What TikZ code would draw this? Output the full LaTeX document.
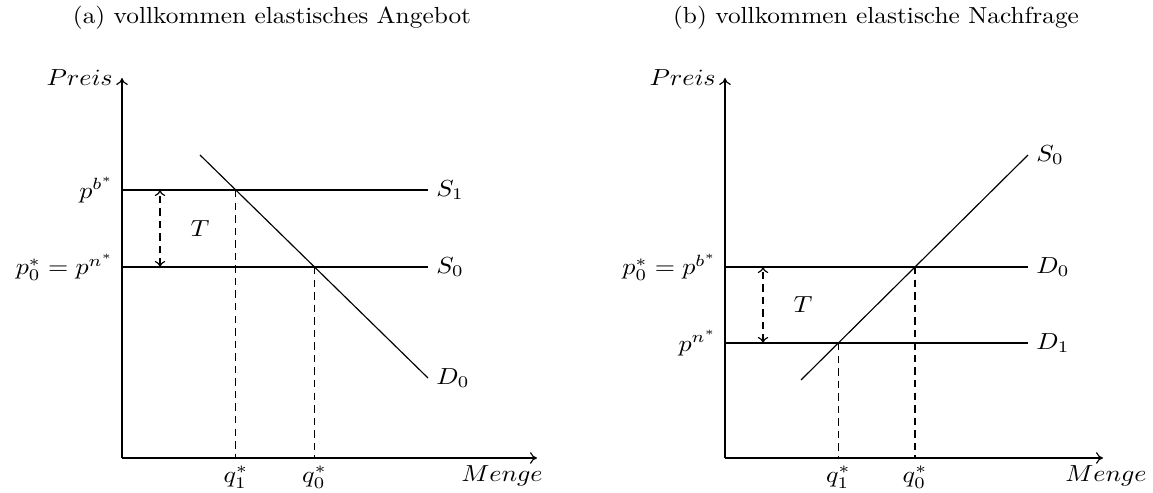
\documentclass[tikz,border=0pt]{standalone}
\usetikzlibrary{arrows.meta}
\newcommand\hstr[1]{\scalebox{1.12}[1]{#1}}
\newcommand\tstr[1]{\scalebox{1.09}[1]{#1}}
\begin{document}
\begin{tikzpicture}[x=0.43pt,y=-0.43pt,line width=0.5pt,
  axis/.style={-{To[length=3pt,width=5pt]}},
  curve/.style={line width=0.5pt},
  guide/.style={dash pattern=on 3.2pt off 2.2pt},
  tarrow/.style={{To[length=2.6pt,width=4.5pt]}-{To[length=2.6pt,width=4.5pt]},dash pattern=on 3.2pt off 2.2pt},
  lbl/.style={inner sep=3.3pt}]
\useasboundingbox (0,0) rectangle (1153,493);

% ---------- titles
\node (ta) at (272,18) {\tstr{(a) vollkommen elastisches Angebot}};
\node (tb) at (876,18) {\tstr{(b) vollkommen elastische Nachfrage}};

% ---------- panel (a)
\coordinate (aO) at (122,458);
\coordinate (aY) at (122,78);
\coordinate (aX) at (537,458);
\draw[axis] (aO) -- (aY);
\draw[axis] (aO) -- (aX);
\node[lbl,anchor=east] (aPreis) at (121,78) {\hstr{$Preis$}};
\node[lbl] (aMenge) at (502,476) {\hstr{$Menge$}};

\coordinate (aS1l) at (122,190);
\coordinate (aS1r) at (428,190);
\coordinate (aS0l) at (122,267);
\coordinate (aS0r) at (428,267);
\coordinate (aDt) at (200,155);
\coordinate (aDb) at (428,378);
\coordinate (aE1) at (235.8,190);
\coordinate (aE0) at (314.5,267);

\draw[curve] (aS1l) -- (aS1r);
\draw[curve] (aS0l) -- (aS0r);
\draw[curve] (aDt) -- (aDb);
\node[lbl,anchor=west] (aS1) at (aS1r) {\hstr{$S_1$}};
\node[lbl,anchor=west] (aS0) at (aS0r) {\hstr{$S_0$}};
\node[lbl,anchor=west] (aD0) at (aDb) {\hstr{$D_0$}};
\node[lbl,anchor=east] (apb) at (aS1l) {\hstr{$p^{b^*}$}};
\node[lbl,anchor=east] (ap0) at (aS0l) {\hstr{$p_0^* = p^{n^*}$}};

\coordinate (aQ1) at (aE1 |- aO);
\coordinate (aQ0) at (aE0 |- aO);
\draw[guide] (aE1) -- (aQ1);
\draw[guide] (aE0) -- (aQ0);
\node[lbl,anchor=north] (aq1) at (aQ1) {\hstr{$q_1^*$}};
\node[lbl,anchor=north] (aq0) at (aQ0) {\hstr{$q_0^*$}};

\coordinate (aTt) at (160,190);
\coordinate (aTb) at (160,267);
\draw[tarrow] (aTb) -- (aTt);
\node (aT) at (200,229) {\hstr{$T$}};

% ---------- panel (b)
\coordinate (bO) at (725,458);
\coordinate (bY) at (725,78);
\coordinate (bX) at (1103,458);
\draw[axis] (bO) -- (bY);
\draw[axis] (bO) -- (bX);
\node[lbl,anchor=east] (bPreis) at (724,78) {\hstr{$Preis$}};
\node[lbl] (bMenge) at (1106,476) {\hstr{$Menge$}};

\coordinate (bD0l) at (725,267);
\coordinate (bD0r) at (1028,267);
\coordinate (bD1l) at (725,343);
\coordinate (bD1r) at (1028,343);
\coordinate (bSb) at (801,380);
\coordinate (bSt) at (1028,155);
\coordinate (bE0) at (915,267);
\coordinate (bE1) at (838.3,343);

\draw[curve] (bD0l) -- (bD0r);
\draw[curve] (bD1l) -- (bD1r);
\draw[curve] (bSb) -- (bSt);
\node[lbl,anchor=west] (bS0) at (bSt) {\hstr{$S_0$}};
\node[lbl,anchor=west] (bD0) at (bD0r) {\hstr{$D_0$}};
\node[lbl,anchor=west] (bD1) at (bD1r) {\hstr{$D_1$}};
\node[lbl,anchor=east] (bp0) at (bD0l) {\hstr{$p_0^* = p^{b^*}$}};
\node[lbl,anchor=east] (bpn) at (bD1l) {\hstr{$p^{n^*}$}};

\coordinate (bQ1) at (bE1 |- bO);
\coordinate (bQ0) at (bE0 |- bO);
\draw[guide] (bE1) -- (bQ1);
\draw[guide] (bE0) -- (bQ0);
\node[lbl,anchor=north] (bq1) at (bQ1) {\hstr{$q_1^*$}};
\node[lbl,anchor=north] (bq0) at (bQ0) {\hstr{$q_0^*$}};

\coordinate (bTt) at (763,267);
\coordinate (bTb) at (763,343);
\draw[tarrow] (bTb) -- (bTt);
\node (bT) at (803,305) {\hstr{$T$}};
\end{tikzpicture}
\end{document}
